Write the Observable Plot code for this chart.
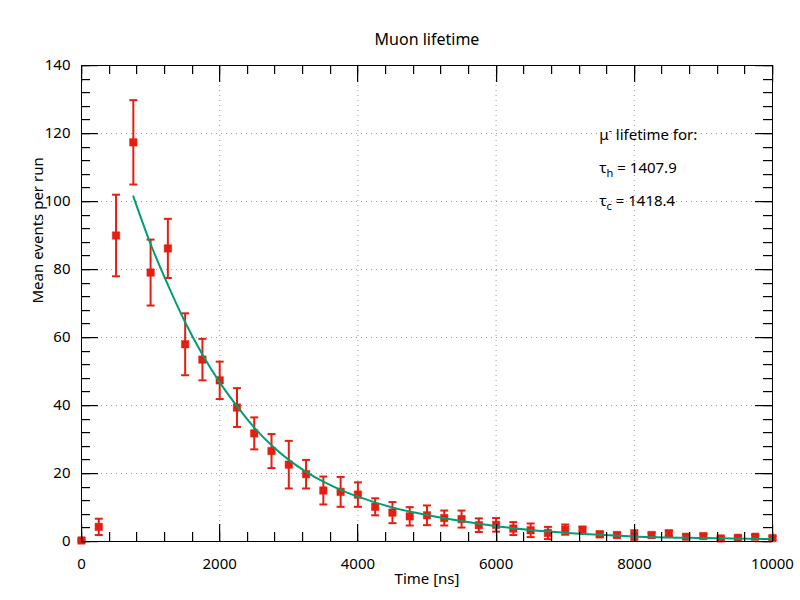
<!DOCTYPE html>
<html>
<head>
<meta charset="utf-8">
<script src="https://cdn.jsdelivr.net/npm/d3@7"></script>
<script src="https://cdn.jsdelivr.net/npm/@observablehq/plot@0.6"></script>
<style>
  body { margin: 0; background: #fff; }
  svg { font-family: "Noto Sans", sans-serif; }
</style>
</head>
<body>
<div id="chart"></div>
<script>
// ---- data ----
const times = [0, 250, 500, 750, 1000, 1250, 1500, 1750, 2000, 2250, 2500, 2750, 3000, 3250, 3500, 3750, 4000, 4250, 4500, 4750, 5000, 5250, 5500, 5750, 6000, 6250, 6500, 6750, 7000, 7250, 7500, 7750, 8000, 8250, 8500, 8750, 9000, 9250, 9500, 9750, 10000];
const means = [0.3, 4.3, 90.0, 117.4, 79.1, 86.2, 58.0, 53.5, 47.4, 39.4, 31.8, 26.6, 22.6, 19.8, 15.0, 14.6, 13.8, 10.2, 8.5, 7.4, 7.7, 6.9, 6.6, 4.8, 4.9, 3.8, 3.3, 2.5, 3.5, 3.3, 2.1, 1.9, 1.9, 1.9, 2.4, 1.4, 1.6, 0.9, 1.1, 1.4, 1.0];
const errors = [0.3, 2.4, 12.0, 12.4, 9.7, 8.7, 9.1, 6.1, 5.5, 5.7, 4.7, 5.0, 7.0, 4.2, 4.1, 4.4, 3.6, 2.5, 3.1, 2.7, 2.9, 2.2, 2.5, 2.0, 2.0, 1.9, 2.0, 1.8, 1.5, 1.1, 0.8, 0.7, 1.4, 0.7, 0.8, 0.6, 0.6, 0.5, 0.5, 0.5, 0.5];

const fitTimes = [750, 1000, 1250, 1500, 1750, 2000, 2250, 2500, 2750, 3000, 3250, 3500, 3750, 4000, 4500, 5000, 5500, 6000, 6500, 7000, 7500, 8000, 9000, 10000];
const fitValues = [101.5, 87.5, 75.5, 64.5, 55.0, 46.8, 39.8, 33.5, 28.3, 24.0, 20.5, 17.6, 15.2, 13.2, 10.0, 7.8, 6.0, 4.5, 3.4, 2.6, 2.0, 1.5, 1.0, 0.7];

const xTicks = [0, 2000, 4000, 6000, 8000, 10000];
const yTicks = [0, 20, 40, 60, 80, 100, 120, 140];
const xMinorStep = 400;
const yMinorStep = 4;

const titleText = "Muon lifetime";
const xLabel = "Time [ns]";
const yLabel = "Mean events per run";
const noteHead = ["μ", "-", " lifetime for:"];
const noteSymbols = ["τ", "τ"];
const noteSubs = ["h", "c"];
const noteValues = ["1407.9", "1418.4"];
const noteX = 7500;
const noteY = [119.5, 109.8, 100.1];

(function () {
  // ---- layout ----
  const W = 800, H = 600;
  const mL = 81, mR = 28, mT = 65, mB = 59;
  const xMax = 10000, yMax = 140;
  const majorLen = 17, minorLen = 9;
  const red = "#e51e10", green = "#009e73";

  const points = times.map((t, i) => ({t, v: means[i], e: errors[i]}));
  const fit = fitTimes.map((t, i) => ({t, v: fitValues[i]}));
  const xMinor = d3.range(0, xMax + 1, xMinorStep);
  const yMinor = d3.range(0, yMax + 1, yMinorStep);

  const capSymbol = {
    draw(context) {
      context.moveTo(-4, 0);
      context.lineTo(4, 0);
    }
  };

  const plot = Plot.plot({
    width: W,
    height: H,
    marginLeft: mL,
    marginRight: mR,
    marginTop: mT,
    marginBottom: mB,
    style: {fontSize: "15px", fontFamily: "'Noto Sans', sans-serif", color: "#000", background: "#fff"},
    x: {domain: [0, xMax]},
    y: {domain: [0, yMax]},
    marks: [
      Plot.gridX(xTicks.slice(1, -1), {stroke: "#999", strokeOpacity: 1, strokeDasharray: "1,4"}),
      Plot.gridY(yTicks.slice(1, -1), {stroke: "#999", strokeOpacity: 1, strokeDasharray: "1,4"}),
      Plot.axisX({ticks: xTicks, tickSize: 0, tickPadding: 17, tickFormat: d3.format("d"), label: null, fontSize: 15}),
      Plot.axisY({ticks: yTicks, tickSize: 0, tickPadding: 11, tickFormat: d3.format("d"), label: null, fontSize: 15}),
      Plot.ruleX(points, {x: "t", y1: d => d.v - d.e, y2: d => d.v + d.e, stroke: red, strokeWidth: 2}),
      Plot.dot(points, {x: "t", y: d => d.v + d.e, symbol: capSymbol, stroke: red, strokeWidth: 2, r: 4}),
      Plot.dot(points, {x: "t", y: d => d.v - d.e, symbol: capSymbol, stroke: red, strokeWidth: 2, r: 4}),
      Plot.dot(points, {x: "t", y: "v", symbol: "square", fill: red, stroke: red, strokeOpacity: 0.5, strokeWidth: 1, r: 4.2}),
      Plot.line(fit, {x: "t", y: "v", stroke: green, strokeWidth: 2, curve: "monotone-x"}),
      Plot.frame({stroke: "#000"}),
      Plot.text([titleText], {text: d => d, frameAnchor: "top", dy: -32, fontSize: 16, fill: "#000"}),
      Plot.text([xLabel], {text: d => d, frameAnchor: "bottom", dy: 42, fontSize: 15, fill: "#000"}),
      Plot.text([yLabel], {text: d => d, frameAnchor: "left", dx: -43, rotate: -90, fontSize: 15, fill: "#000"})
    ]
  });

  const sx = plot.scale("x"), sy = plot.scale("y");
  const svg = d3.select(plot);

  // inward mirrored ticks on all four sides, placed through the plot's scales, as filled rects
  const fTop = Math.round(sy.apply(yMax)), fBottom = Math.round(sy.apply(0));
  const fLeft = Math.round(sx.apply(0)), fRight = Math.round(sx.apply(xMax));
  const tg = svg.append("g").attr("fill", "#000").attr("stroke", "none");
  const xTickSet = xMinor.map(v => [v, minorLen]).concat(xTicks.map(v => [v, majorLen]));
  const yTickSet = yMinor.map(v => [v, minorLen]).concat(yTicks.map(v => [v, majorLen]));
  xTickSet.forEach(([v, len]) => {
    const x = Math.round(sx.apply(v));
    tg.append("rect").attr("x", x).attr("width", 1.2).attr("y", fBottom - len).attr("height", len);
    tg.append("rect").attr("x", x).attr("width", 1.2).attr("y", fTop).attr("height", len);
  });
  yTickSet.forEach(([v, len]) => {
    const y = Math.round(sy.apply(v));
    tg.append("rect").attr("y", y).attr("height", 1.2).attr("x", fLeft).attr("width", len);
    tg.append("rect").attr("y", y).attr("height", 1.2).attr("x", fRight - len).attr("width", len);
  });

  // annotation with super/subscripts, positioned through the plot's scales
  const g = svg.append("g")
    .attr("font-size", 15)
    .attr("fill", "#000")
    .attr("text-anchor", "start")
    .attr("font-family", "'Noto Sans', sans-serif");
  const head = g.append("text").attr("x", sx.apply(noteX)).attr("y", sy.apply(noteY[0])).attr("dy", "0.35em");
  head.append("tspan").text(noteHead[0]);
  head.append("tspan").attr("font-size", 10).attr("dy", -6).text(noteHead[1]);
  head.append("tspan").attr("dy", 6).text(noteHead[2]);
  noteSymbols.forEach((s, i) => {
    const t = g.append("text").attr("x", sx.apply(noteX)).attr("y", sy.apply(noteY[i + 1])).attr("dy", "0.35em");
    t.append("tspan").text(s);
    t.append("tspan").attr("font-size", 11).attr("dy", 4).text(noteSubs[i]);
    t.append("tspan").attr("dy", -4).text(" = " + noteValues[i]);
  });

  document.getElementById("chart").appendChild(plot);
})();
</script>
</body>
</html>
